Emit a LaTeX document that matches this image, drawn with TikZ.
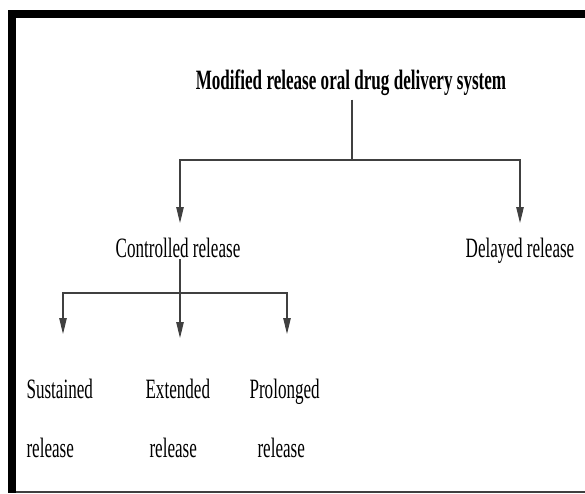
\documentclass[tikz,border=0pt]{standalone}
\usepackage{fontspec}
\setmainfont{Liberation Serif}[FakeStretch=0.61]
\usetikzlibrary{arrows.meta}

\begin{document}
\begin{tikzpicture}
  [x=1pt,y=-1pt,line width=1.1pt,draw=black!75,
   every node/.style={inner sep=0pt,anchor=base,font=\fontsize{28}{32}\selectfont},
   arr/.style={-{Triangle[length=16pt,width=7.5pt]}}]
  \useasboundingbox (0,0) rectangle (585,493);
  % frame
  \fill (8,10) rectangle (585,18);
  \fill (8,10) rectangle (16,493);
  \draw[line width=1.5pt] (16,492) -- (585,492);
  % labels
  \node[font=\bfseries\fontsize{28}{32}\selectfont] (mod) at (351,89) {Modified release oral drug delivery system};
  \node (ctrl) at (178,257) {Controlled release};
  \node (dely) at (520,257) {Delayed release};
  \node[anchor=base west] (sust) at (26,398) {Sustained};
  \node[anchor=base west] (sustb) at (26,457) {release};
  \node[anchor=base west] (extd) at (145,398) {Extended};
  \node[anchor=base west] (extdb) at (149,457) {release};
  \node[anchor=base west] (prol) at (249,398) {Prolonged};
  \node[anchor=base west] (prolb) at (257,457) {release};
  % branch points and arrow tips
  \coordinate (hub) at (352,160);
  \coordinate (ctrlin) at (180,223);
  \coordinate (delyin) at (520,223);
  \coordinate (chub) at (180,293);
  \coordinate (sustin) at (63,334);
  \coordinate (extdin) at (180,338);
  \coordinate (prolin) at (287,334);
  \draw[shorten <=4pt] (mod.south -| hub) -- (hub);
  \foreach \to in {ctrlin,delyin}
    \draw[arr] (hub) -| (\to);
  \draw ([yshift=-2pt]ctrl.base -| chub) -- (chub);
  \foreach \to in {sustin,extdin,prolin}
    \draw[arr] (chub) -| (\to);
\end{tikzpicture}
\end{document}
